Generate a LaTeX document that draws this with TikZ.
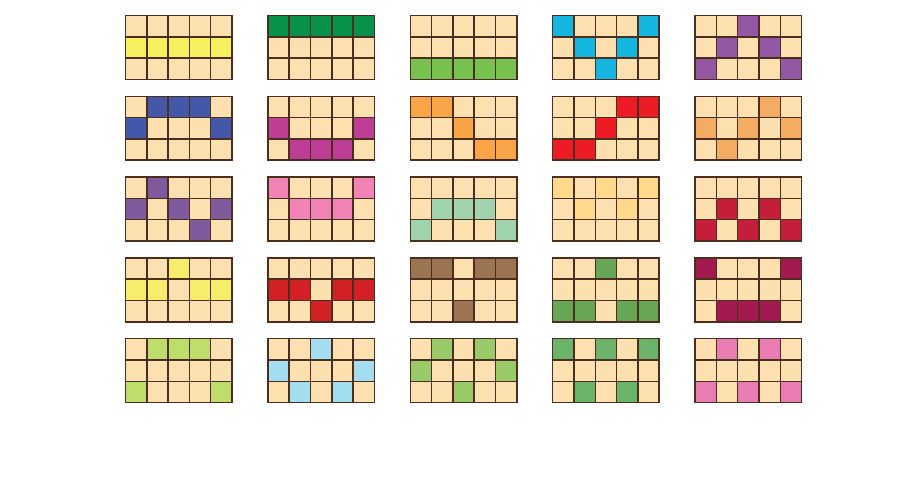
\documentclass[tikz,border=0pt]{standalone}
\usepackage{xcolor}
\usepackage{tikz}

\definecolor{cellbg}{HTML}{FDE0B0}
\definecolor{gridline}{HTML}{4B2E20}
\definecolor{yelA}{HTML}{F6EF5E}
\definecolor{greenA}{HTML}{08914A}
\definecolor{greenB}{HTML}{77C14F}
\definecolor{cyanA}{HTML}{14B5DF}
\definecolor{purpA}{HTML}{9457A4}
\definecolor{blueA}{HTML}{4358A8}
\definecolor{magA}{HTML}{BE3D95}
\definecolor{orangeA}{HTML}{F9A446}
\definecolor{redA}{HTML}{ED1C24}
\definecolor{orangeB}{HTML}{F3AC62}
\definecolor{purpB}{HTML}{7F5A9D}
\definecolor{pinkA}{HTML}{F183B6}
\definecolor{mintA}{HTML}{9FD4AF}
\definecolor{sandA}{HTML}{FFD98B}
\definecolor{crimA}{HTML}{C41E3A}
\definecolor{yelB}{HTML}{F6EE6B}
\definecolor{redB}{HTML}{D12127}
\definecolor{brownA}{HTML}{9C7452}
\definecolor{greenC}{HTML}{66A654}
\definecolor{wineA}{HTML}{A2194F}
\definecolor{limeA}{HTML}{BEDE6B}
\definecolor{skyA}{HTML}{A3DEF0}
\definecolor{greenD}{HTML}{98CB67}
\definecolor{greenE}{HTML}{6CB36A}
\definecolor{pinkB}{HTML}{E97CB0}

\tikzset{
  cell/.style={draw=gridline, line width=0.9pt, fill=cellbg},
}

% one card: column, row, colour, filled cells as col/row
\newcommand{\card}[4]{%
  \begin{scope}[shift={(125.5+142.4*#1,15.5+80.8*#2)}]
    \foreach \c in {0,...,4}
      \foreach \r in {0,1,2}
        \draw[cell] (21.3*\c,21.3*\r) rectangle ++(21.3,21.3);
    \foreach \c/\r in {#4}
      \draw[cell, fill=#3] (21.3*\c,21.3*\r) rectangle ++(21.3,21.3);
  \end{scope}}

\begin{document}
\begin{tikzpicture}[x=0.02cm, y=-0.02cm]
    \useasboundingbox (0,0) rectangle (900,482);

    % Row 1
    \card{0}{0}{yelA}{0/1,1/1,2/1,3/1,4/1}
    \card{1}{0}{greenA}{0/0,1/0,2/0,3/0,4/0}
    \card{2}{0}{greenB}{0/2,1/2,2/2,3/2,4/2}
    \card{3}{0}{cyanA}{0/0,4/0,1/1,3/1,2/2}
    \card{4}{0}{purpA}{2/0,1/1,3/1,0/2,4/2}

    % Row 2
    \card{0}{1}{blueA}{1/0,2/0,3/0,0/1,4/1}
    \card{1}{1}{magA}{0/1,4/1,1/2,2/2,3/2}
    \card{2}{1}{orangeA}{0/0,1/0,2/1,3/2,4/2}
    \card{3}{1}{redA}{3/0,4/0,2/1,0/2,1/2}
    \card{4}{1}{orangeB}{3/0,0/1,2/1,4/1,1/2}

    % Row 3
    \card{0}{2}{purpB}{1/0,0/1,2/1,4/1,3/2}
    \card{1}{2}{pinkA}{0/0,4/0,1/1,2/1,3/1}
    \card{2}{2}{mintA}{1/1,2/1,3/1,0/2,4/2}
    \card{3}{2}{sandA}{0/0,2/0,4/0,1/1,3/1}
    \card{4}{2}{crimA}{1/1,3/1,0/2,2/2,4/2}

    % Row 4
    \card{0}{3}{yelB}{2/0,0/1,1/1,3/1,4/1}
    \card{1}{3}{redB}{0/1,1/1,3/1,4/1,2/2}
    \card{2}{3}{brownA}{0/0,1/0,3/0,4/0,2/2}
    \card{3}{3}{greenC}{2/0,0/2,1/2,3/2,4/2}
    \card{4}{3}{wineA}{0/0,4/0,1/2,2/2,3/2}

    % Row 5
    \card{0}{4}{limeA}{1/0,2/0,3/0,0/2,4/2}
    \card{1}{4}{skyA}{2/0,0/1,4/1,1/2,3/2}
    \card{2}{4}{greenD}{1/0,3/0,0/1,4/1,2/2}
    \card{3}{4}{greenE}{0/0,2/0,4/0,1/2,3/2}
    \card{4}{4}{pinkB}{1/0,3/0,0/2,2/2,4/2}

\end{tikzpicture}
\end{document}
